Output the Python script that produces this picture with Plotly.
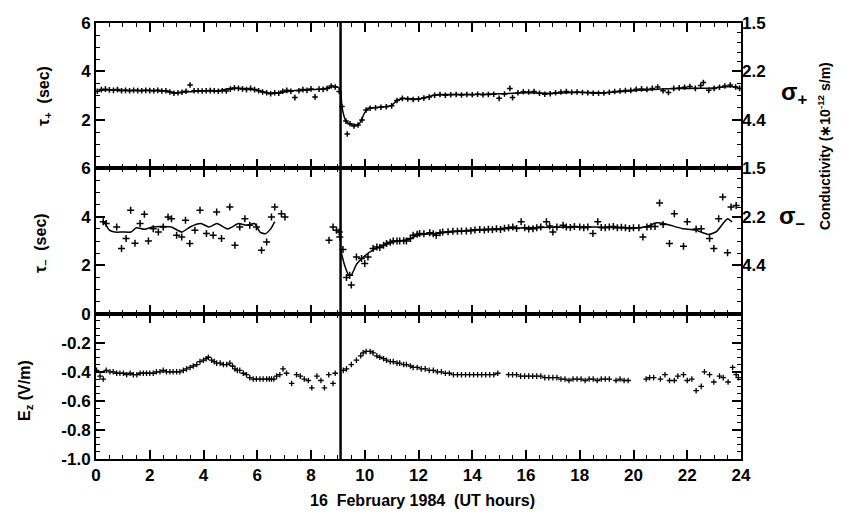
import plotly.graph_objects as go

# ---------------- data ----------------
# tau+ (top panel) measured points
tp_x_pre = [0.05,0.2,0.35,0.5,0.65,0.8,0.95,1.1,1.25,1.4,1.55,1.7,1.85,2.0,2.15,2.3,2.45,2.6,2.75,2.9,
            3.05,3.2,3.35,3.5,3.65,3.8,3.95,4.1,4.25,4.4,4.55,4.7,4.85,5.0,5.15,5.3,5.45,5.6,5.75,5.9,
            6.05,6.2,6.35,6.5,6.65,6.8,6.95,7.1,7.25,7.4,7.55,7.7,7.85,8.0,8.15,8.3,8.45,8.6,8.75,8.9,9.05]
tp_y_pre = [3.18,3.25,3.27,3.24,3.22,3.25,3.2,3.22,3.2,3.22,3.21,3.2,3.22,3.21,3.2,3.22,3.19,3.2,3.15,3.1,
            3.12,3.14,3.18,3.44,3.2,3.2,3.19,3.2,3.21,3.2,3.18,3.2,3.19,3.27,3.32,3.3,3.28,3.25,3.3,3.25,
            3.2,3.15,3.12,3.08,3.12,3.1,3.18,3.22,3.18,2.92,3.2,3.25,3.22,3.28,2.95,3.27,3.26,3.3,3.4,3.36,3.17]
tp_x_post = [9.15,9.3,9.35,9.45,9.6,9.75,9.9,10.05,10.2,10.4,10.6,10.8,11.0,11.2,11.4,11.6,11.8,12.0,12.2,12.4,
             12.6,12.8,13.0,13.2,13.4,13.6,13.8,14.0,14.2,14.4,14.6,14.8,15.0,15.2,15.4,15.5,15.7,15.9,16.1,16.3,
             16.5,16.7,16.9,17.1,17.3,17.5,17.7,17.9,18.1,18.3,18.5,18.7,18.9,19.1,19.3,19.5,19.7,19.9,20.1,20.3,
             20.5,20.7,20.9,21.1,21.3,21.5,21.7,21.9,22.1,22.3,22.5,22.6,22.8,23.0,23.2,23.4,23.6,23.8,23.95]
tp_y_post = [2.55,1.95,1.42,1.84,1.75,1.79,2.0,2.41,2.48,2.5,2.52,2.54,2.58,2.8,2.89,2.86,2.84,2.86,2.9,2.94,
             3.02,3.05,3.02,3.04,3.05,3.03,3.05,3.04,3.06,3.04,3.05,3.06,2.89,3.07,3.3,2.92,3.12,3.16,3.15,3.17,
             3.1,3.06,3.08,3.12,3.15,3.17,3.14,3.15,3.13,3.12,3.1,3.1,3.11,3.14,3.17,3.19,3.21,3.22,3.26,3.28,
             3.26,3.3,3.36,3.2,3.13,3.3,3.32,3.35,3.38,3.3,3.42,3.54,3.22,3.3,3.35,3.4,3.44,3.36,3.3]
# tau+ smoothed curve
tp_fit_x = [0.1,0.5,1.0,1.5,2.0,2.5,3.0,3.5,4.0,4.5,5.0,5.5,6.0,6.5,7.0,7.5,8.0,8.5,8.8,9.0,9.1,
            9.15,9.3,9.45,9.6,9.8,10.0,10.15,10.5,11.0,11.2,11.5,12.0,12.5,13.0,14.0,15.0,16.0,17.0,
            18.0,19.0,20.0,21.0,22.0,23.0,23.6,23.9]
tp_fit_y = [3.22,3.24,3.22,3.21,3.21,3.2,3.12,3.16,3.2,3.2,3.3,3.3,3.22,3.1,3.15,3.22,3.25,3.28,3.38,3.35,3.2,
            2.55,1.95,1.82,1.78,1.85,2.3,2.48,2.52,2.6,2.8,2.88,2.86,3.0,3.05,3.05,3.08,3.12,3.1,
            3.14,3.12,3.2,3.28,3.3,3.32,3.38,3.33]

# tau- (middle panel) measured points
tm_x = [0.27,0.38,0.77,0.95,1.12,1.29,1.45,1.64,1.8,1.95,2.13,2.32,2.5,2.68,2.81,3.0,3.19,3.33,3.49,3.68,
        3.87,4.11,4.36,4.49,4.67,4.98,5.17,5.35,5.54,5.72,5.97,6.16,6.35,6.53,6.65,6.9,7.03,
        8.67,8.82,8.95,9.05,9.07,
        9.19,9.32,9.44,9.5,9.69,9.88,10.0,10.12,10.31,10.45,10.56,10.7,10.81,10.95,11.06,11.2,11.3,11.45,11.55,11.7,
        11.8,11.95,12.04,12.2,12.42,12.55,12.66,12.8,12.9,13.1,13.28,13.45,13.6,13.78,13.95,14.1,14.28,14.45,14.6,14.75,
        14.9,15.05,15.2,15.35,15.51,15.65,15.82,15.95,16.1,16.26,16.4,16.55,16.76,16.88,17.0,17.15,17.38,17.5,17.65,17.8,
        18.0,18.15,18.3,18.49,18.67,18.8,18.95,19.1,19.25,19.4,19.55,19.7,19.85,20.0,20.2,20.35,20.5,20.65,20.8,20.97,
        21.1,21.34,21.52,21.86,22.0,22.33,22.52,22.83,22.99,23.17,23.32,23.5,23.63,23.82]
tm_y = [3.79,3.72,3.58,2.69,3.1,4.27,2.91,3.72,4.1,3.0,3.51,3.37,3.58,3.99,3.92,3.24,3.17,3.86,2.9,3.44,
        4.27,3.31,3.24,4.2,3.1,4.4,2.82,3.58,3.92,3.65,3.58,2.62,2.96,3.99,4.4,4.13,3.99,
        3.03,3.58,3.44,3.37,3.17,
        2.65,1.49,1.59,1.18,2.34,2.28,2.07,2.34,2.69,2.75,2.73,2.82,2.9,2.95,3.0,3.0,3.0,3.01,3.0,3.1,
        3.24,3.28,3.31,3.3,3.34,3.3,3.24,3.34,3.37,3.38,3.4,3.4,3.41,3.41,3.42,3.45,3.47,3.45,3.48,3.46,
        3.51,3.47,3.53,3.55,3.58,3.52,3.79,3.55,3.5,3.51,3.55,3.58,3.79,3.62,3.37,3.58,3.65,3.58,3.56,3.6,
        3.58,3.55,3.58,3.31,3.79,3.56,3.55,3.58,3.6,3.55,3.57,3.55,3.52,3.55,3.55,3.17,3.58,3.6,3.6,4.57,
        3.68,2.9,4.13,2.78,3.79,3.5,3.51,3.1,2.69,3.92,4.82,2.51,4.4,4.47]
# tau- smoothed curve (None = data gap)
tm_fit_x = [0.3,0.5,0.7,1.0,1.3,1.5,1.8,2.1,2.4,2.8,3.2,3.5,3.9,4.2,4.5,4.9,5.3,5.6,5.9,6.1,6.3,6.5,6.65,
            8.0,
            9.1,9.25,9.4,9.5,9.7,9.95,10.3,10.8,11.2,11.6,12.0,12.5,13.0,13.5,14.0,15.0,16.0,17.0,18.0,19.0,
            20.0,20.5,20.85,21.2,21.8,22.3,22.8,23.1,23.35,23.5,23.67]
tm_fit_y = [3.8,3.45,3.37,3.37,3.37,3.55,3.48,3.58,3.6,3.58,3.37,3.58,3.72,3.58,3.72,3.5,3.72,3.65,3.72,3.37,3.3,3.5,3.8,
            None,
            2.65,2.0,1.6,1.6,2.05,2.34,2.62,2.85,3.0,3.05,3.25,3.3,3.35,3.4,3.45,3.5,3.55,3.57,3.58,3.57,
            3.53,3.6,3.75,3.7,3.52,3.45,3.27,3.4,3.75,3.92,3.79]

# E_z (bottom panel)
ez_x = [0.02,0.15,0.27,0.38,0.52,0.64,0.77,0.89,1.02,1.14,1.27,1.39,1.52,1.64,1.76,1.88,2.0,2.13,2.25,2.38,
        2.5,2.62,2.75,2.87,3.0,3.12,3.25,3.37,3.5,3.62,3.75,3.87,4.0,4.1,4.18,4.3,4.4,4.49,4.62,4.74,
        4.86,4.98,5.08,5.17,5.26,5.35,5.48,5.6,5.72,5.85,5.97,6.1,6.22,6.35,6.45,6.53,6.62,6.72,6.84,6.96,
        7.09,7.28,7.46,7.6,7.75,7.9,8.03,8.22,8.37,8.5,8.66,8.82,8.9,
        9.2,9.32,9.5,9.69,9.85,9.94,10.05,10.2,10.31,10.45,10.56,10.7,10.81,10.95,11.06,11.2,11.3,11.45,11.55,11.7,
        11.8,11.95,12.1,12.25,12.4,12.55,12.7,12.85,13.0,13.15,13.3,13.45,13.6,13.75,13.9,14.05,14.2,14.35,14.5,14.65,
        14.8,14.95,15.35,15.5,15.65,15.8,15.95,16.1,16.25,16.4,16.55,16.7,16.85,17.0,17.15,17.3,17.45,17.6,17.75,17.9,
        18.05,18.2,18.35,18.5,18.65,18.8,18.95,19.1,19.35,19.5,19.65,19.8,
        20.47,20.6,20.75,21.0,21.17,21.34,21.52,21.65,21.86,22.0,22.17,22.33,22.52,22.64,22.83,22.99,23.2,23.34,23.52,23.69,
        23.82,23.9]
ez_y = [-0.39,-0.43,-0.45,-0.39,-0.40,-0.40,-0.41,-0.41,-0.41,-0.42,-0.41,-0.42,-0.42,-0.41,-0.41,-0.41,-0.41,-0.41,-0.40,-0.40,
        -0.39,-0.40,-0.40,-0.40,-0.40,-0.40,-0.39,-0.38,-0.37,-0.36,-0.35,-0.33,-0.32,-0.31,-0.30,-0.32,-0.33,-0.34,-0.34,-0.35,
        -0.35,-0.34,-0.36,-0.38,-0.39,-0.39,-0.41,-0.42,-0.44,-0.45,-0.45,-0.45,-0.45,-0.45,-0.45,-0.45,-0.45,-0.43,-0.42,-0.38,
        -0.41,-0.48,-0.42,-0.43,-0.45,-0.46,-0.51,-0.43,-0.46,-0.51,-0.42,-0.48,-0.41,
        -0.39,-0.38,-0.35,-0.32,-0.29,-0.27,-0.26,-0.26,-0.27,-0.29,-0.30,-0.31,-0.32,-0.33,-0.33,-0.34,-0.34,-0.35,-0.35,-0.36,
        -0.37,-0.37,-0.38,-0.38,-0.39,-0.39,-0.40,-0.40,-0.41,-0.41,-0.42,-0.42,-0.42,-0.42,-0.42,-0.42,-0.42,-0.42,-0.42,-0.42,
        -0.42,-0.41,-0.42,-0.42,-0.42,-0.43,-0.43,-0.43,-0.43,-0.43,-0.43,-0.44,-0.44,-0.44,-0.44,-0.45,-0.45,-0.46,-0.45,-0.45,
        -0.45,-0.46,-0.45,-0.45,-0.46,-0.45,-0.45,-0.45,-0.46,-0.45,-0.46,-0.46,
        -0.45,-0.44,-0.44,-0.45,-0.42,-0.46,-0.46,-0.43,-0.42,-0.46,-0.45,-0.53,-0.50,-0.40,-0.42,-0.47,-0.43,-0.44,-0.47,-0.37,
        -0.42,-0.44]

event_hour = [9.1]
x_ticks = [0, 2, 4, 6, 8, 10, 12, 14, 16, 18, 20, 22, 24]
tau_ticks = [2, 4, 6]
sigma_labels = ["4.4", "2.2", "1.5"]
ez_ticks = [-1.0, -0.8, -0.6, -0.4, -0.2]
ez_labels = ["-1.0", "-0.8", "-0.6", "-0.4", "-0.2"]

# ---------------- figure ----------------
BLK = "black"
FONT = "Liberation Sans"
tickfont = dict(family=FONT, size=17, color=BLK, weight="bold")

fig = go.Figure()

def marks(x, y, xa, ya, size=6, w=1.4):
    fig.add_trace(go.Scatter(x=x, y=y, mode="markers", xaxis=xa, yaxis=ya,
                             marker=dict(symbol="cross-thin", size=size, color=BLK,
                                         line=dict(width=w, color=BLK)),
                             showlegend=False, hoverinfo="skip"))

def curve(x, y, xa, ya):
    fig.add_trace(go.Scatter(x=x, y=y, mode="lines", xaxis=xa, yaxis=ya,
                             line=dict(color=BLK, width=1.5, shape="spline", smoothing=0.6),
                             connectgaps=False, showlegend=False, hoverinfo="skip"))

# top
curve(tp_fit_x, tp_fit_y, "x", "y")
marks(tp_x_pre, tp_y_pre, "x", "y", 4, 1.5)
marks(tp_x_post, tp_y_post, "x", "y", 4, 1.5)
# middle
curve(tm_fit_x, tm_fit_y, "x2", "y2")
marks(tm_x, tm_y, "x2", "y2", 5, 1.5)
# bottom
marks(ez_x, ez_y, "x3", "y3", 4, 1.3)
# invisible traces for right (sigma) axes
fig.add_trace(go.Scatter(x=[0], y=[3], xaxis="x", yaxis="y4", mode="markers",
                         marker=dict(opacity=0), showlegend=False, hoverinfo="skip"))
fig.add_trace(go.Scatter(x=[0], y=[3], xaxis="x2", yaxis="y5", mode="markers",
                         marker=dict(opacity=0), showlegend=False, hoverinfo="skip"))

xcommon = dict(range=[0, 24], tickvals=x_ticks, ticks="inside", ticklen=9, tickwidth=1.5,
               tickcolor=BLK, showline=True, linecolor=BLK, linewidth=2, mirror="ticks",
               showgrid=False, zeroline=False, tickfont=tickfont,
               minor=dict(dtick=0.5, tick0=0, ticks="inside", ticklen=4, tickwidth=1.3, tickcolor=BLK))
fig.update_layout(
    xaxis=dict(xcommon, anchor="y", showticklabels=False),
    xaxis2=dict(xcommon, anchor="y2", showticklabels=False, matches="x"),
    xaxis3=dict(xcommon, anchor="y3", showticklabels=True, matches="x"),
)

ycommon = dict(ticks="inside", ticklen=9, tickwidth=1.5, tickcolor=BLK, showline=True,
               linecolor=BLK, linewidth=2, showgrid=False, zeroline=False, tickfont=tickfont)
fig.update_layout(
    yaxis=dict(ycommon, domain=[2/3, 1], anchor="x", range=[0, 6], tickvals=tau_ticks, mirror=True,
               minor=dict(dtick=0.5, tick0=0, ticks="inside", ticklen=4, tickwidth=1.3, tickcolor=BLK)),
    yaxis2=dict(ycommon, domain=[1/3, 2/3], anchor="x2", range=[0, 6], tickvals=[0] + tau_ticks, mirror=True,
                minor=dict(dtick=0.5, tick0=0, ticks="inside", ticklen=4, tickwidth=1.3, tickcolor=BLK)),
    yaxis3=dict(ycommon, domain=[0, 1/3], anchor="x3", range=[-1, 0], tickvals=ez_ticks, ticktext=ez_labels,
                mirror="ticks",
                minor=dict(dtick=0.05, tick0=0, ticks="inside", ticklen=4, tickwidth=1.3, tickcolor=BLK)),
    yaxis4=dict(overlaying="y", anchor="x", side="right", range=[0, 6], tickvals=tau_ticks,
                ticktext=sigma_labels, ticks="inside", ticklen=9, tickwidth=1.5, tickcolor=BLK,
                showline=False, showgrid=False, zeroline=False, tickfont=tickfont,
                minor=dict(tickvals=[5.6, 5.2, 4.8, 4.4, 3.5, 3.0, 2.5, 1.5, 1.0, 0.5],
                           ticks="inside", ticklen=4, tickwidth=1.3, tickcolor=BLK)),
    yaxis5=dict(overlaying="y2", anchor="x2", side="right", range=[0, 6], tickvals=tau_ticks,
                ticktext=sigma_labels, ticks="inside", ticklen=9, tickwidth=1.5, tickcolor=BLK,
                showline=False, showgrid=False, zeroline=False, tickfont=tickfont,
                minor=dict(tickvals=[5.6, 5.2, 4.8, 4.4, 3.5, 3.0, 2.5, 1.5, 1.0, 0.5],
                           ticks="inside", ticklen=4, tickwidth=1.3, tickcolor=BLK)),
)

# event line across all panels
for h in event_hour:
    fig.add_shape(type="line", xref="x", yref="paper", x0=h, x1=h, y0=0, y1=1,
                  line=dict(color=BLK, width=2.5))

def ann(text, x, y, size=16, angle=0):
    fig.add_annotation(text=text, xref="paper", yref="paper", x=x, y=y, showarrow=False,
                       xanchor="center", yanchor="middle", textangle=angle,
                       font=dict(family=FONT, size=size, color=BLK, weight="bold"))

# target page-pixel positions of the plot area (page has an 8px body margin)
W0, W1, H0, H1 = 96, 741, 23, 459
px = lambda p: (p - W0) / (W1 - W0)
py = lambda p: (H1 - p) / (H1 - H0)

ann("τ<sub>+</sub>  (sec)", px(44), py(96), 16, -90)
ann("τ<sub>–</sub>  (sec)", px(41), py(243), 16, -90)
ann("E<sub>z</sub> (V/m)", px(25), py(391), 16, -90)
ann("σ<sub>+</sub>", px(794), py(93), 24)
ann("σ<sub>–</sub>", px(792), py(217), 24)
ann("Conductivity (∗10<sup>-12</sup> s/m)", px(824), py(146), 14, -90)
ann("16  February 1984  (UT hours)", px(422), py(500), 16)

OFF = 8
fig.update_layout(width=842 - OFF, height=517 - OFF,
                  margin=dict(l=W0 - OFF, r=842 - W1, t=H0 - OFF, b=517 - H1, autoexpand=False),
                  paper_bgcolor="white", plot_bgcolor="white", showlegend=False)

fig.write_html("out.html")
